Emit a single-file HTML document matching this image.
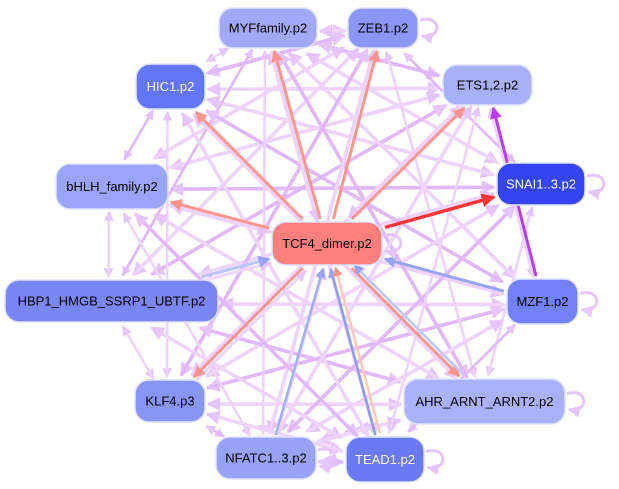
<!DOCTYPE html>
<html><head><meta charset="utf-8"><style>
html,body{margin:0;padding:0;background:#fff;width:619px;height:489px;overflow:hidden}
svg{display:block}
text{font-family:"Liberation Sans",sans-serif;font-size:13px;text-anchor:middle;dominant-baseline:central}
</style></head><body>
<svg id="s" width="619" height="489" xmlns="http://www.w3.org/2000/svg">
<defs>
<marker id="ap" markerWidth="4" markerHeight="4" refX="3.5" refY="2" orient="auto" markerUnits="strokeWidth"><path d="M0,0L4,2L0,4z" fill="#e6c4fc"/></marker>
<marker id="ar" markerWidth="4" markerHeight="4" refX="3.5" refY="2" orient="auto" markerUnits="strokeWidth"><path d="M0,0L4,2L0,4z" fill="#ff948c"/></marker>
<marker id="arr" markerWidth="4" markerHeight="4" refX="3.5" refY="2" orient="auto" markerUnits="strokeWidth"><path d="M0,0L4,2L0,4z" fill="#ff3535"/></marker>
<marker id="ab" markerWidth="4" markerHeight="4" refX="3.5" refY="2" orient="auto" markerUnits="strokeWidth"><path d="M0,0L4,2L0,4z" fill="#95a4f8"/></marker>
<marker id="am" markerWidth="4" markerHeight="4" refX="3.5" refY="2" orient="auto" markerUnits="strokeWidth"><path d="M0,0L4,2L0,4z" fill="#bb3cf6"/></marker>
</defs>
<g id="edges"></g>
<g id="nodes"></g>
</svg>
<script>
var N={MYF:[219,8,98,40,"#a3a9fa","MYFfamily.p2","#000"],ZEB:[348,8,70,40,"#8b96f6","ZEB1.p2","#000"],
HIC:[136,64,69,45,"#6476f8","HIC1.p2","#fff"],ETS:[443,65,89,40,"#a8b0f8","ETS1,2.p2","#000"],
bHLH:[56,164,112,45,"#9aa4f8","bHLH_family.p2","#000"],SNAI:[497,163,88,42,"#3344f0","SNAI1..3.p2","#fff"],
TCF:[272,222,110,43,"#ff7f7c","TCF4_dimer.p2","#000"],HBP:[5,280,213,42,"#7a86f4","HBP1_HMGB_SSRP1_UBTF.p2","#000"],
MZF:[507,279,71,45,"#7381f6","MZF1.p2","#000"],KLF:[135,380,70,42,"#8894f6","KLF4.p3","#000"],
AHR:[404,379,161,45,"#a9b1fa","AHR_ARNT_ARNT2.p2","#000"],NFA:[216,437,100,42,"#98a2f8","NFATC1..3.p2","#000"],
TEAD:[346,437,78,45,"#6a79f6","TEAD1.p2","#fff"]};
var E=document.getElementById("edges"),G=document.getElementById("nodes"),ns="http://www.w3.org/2000/svg";
function c(k){var n=N[k];return [n[0]+n[2]/2,n[1]+n[3]/2];}
function clip(k,from){var n=N[k],p=c(k),dx=from[0]-p[0],dy=from[1]-p[1];var tx=Math.abs(dx)>0?(n[2]/2+3)/Math.abs(dx):1e9,ty=Math.abs(dy)>0?(n[3]/2+3)/Math.abs(dy):1e9;var t=Math.min(tx,ty,1);return [p[0]+dx*t,p[1]+dy*t];}
function line(a,b,col,w,m,off){var pa=c(a),pb=c(b);off=off||0;var s=clip(a,pb),e=clip(b,pa);
var dx=e[0]-s[0],dy=e[1]-s[1],L=Math.hypot(dx,dy);var ox=-dy/L*off,oy=dx/L*off;
var l=document.createElementNS(ns,"line");l.setAttribute("x1",s[0]+ox);l.setAttribute("y1",s[1]+oy);l.setAttribute("x2",e[0]+ox);l.setAttribute("y2",e[1]+oy);
l.setAttribute("stroke",col);l.setAttribute("stroke-width",w);l.setAttribute("marker-end","url(#"+m+")");E.appendChild(l);}
var K=Object.keys(N).filter(function(k){return k!="TCF"});
var i,j;
for(i=0;i<K.length;i++)for(j=0;j<K.length;j++){if(i==j)continue;if((i*7+j*3)%4==0)continue;
var col=((i+j)%3==0)?"#e0b8fb":"#eed4fd";line(K[i],K[j],col,(i+j)%2?3.5:2.5,"ap",i<j?3:-3);}
["HBP","bHLH","KLF","NFA","AHR","ETS","MYF"].forEach(function(k){line(k,"TCF","#eed4fd",3,"ap",4);});
["MYF","ZEB","HIC","ETS","bHLH","AHR","KLF"].forEach(function(k){line("TCF",k,"#ff968e",3,"ar");});
line("TCF","SNAI","#ff3535",3.5,"arr");
line("MZF","TCF","#95a4f8",3,"ab");line("TEAD","TCF","#8b9cf8",2.5,"ab",-3);line("NFA","TCF","#9fb0fa",2.5,"ab",3);
line("HBP","TCF","#b8c4fa",3,"ab");line("AHR","TCF","#c0cbfb",2.5,"ab",4);
line("TEAD","TCF","#ffc8b8",2.5,"ar",2);line("MZF","ETS","#bb3cf6",3,"am",0);
function loop(k){var n=N[k],x=n[0]+n[2],y=n[1]+n[3]/2;var p=document.createElementNS(ns,"path");
p.setAttribute("d","M"+(x+2)+","+(y-8)+"C"+(x+24)+","+(y-14)+" "+(x+24)+","+(y+12)+" "+(x+4)+","+(y+8));p.setAttribute("fill","none");p.setAttribute("stroke","#e6c4fc");p.setAttribute("stroke-width",3);p.setAttribute("marker-end","url(#ap)");E.appendChild(p);}
["ZEB","SNAI","MZF","AHR","TEAD","NFA","TCF"].forEach(loop);
for(var k in N){var n=N[k];var r=document.createElementNS(ns,"rect");r.setAttribute("x",n[0]);r.setAttribute("y",n[1]);r.setAttribute("width",n[2]);r.setAttribute("height",n[3]);
r.setAttribute("rx",14);r.setAttribute("fill",n[4]);r.setAttribute("stroke","#dfe2fd");r.setAttribute("stroke-width",1.5);G.appendChild(r);
var t=document.createElementNS(ns,"text");t.setAttribute("x",n[0]+n[2]/2);t.setAttribute("y",n[1]+n[3]/2);t.setAttribute("fill",n[6]);t.textContent=n[5];G.appendChild(t);}
</script>
</body></html>
